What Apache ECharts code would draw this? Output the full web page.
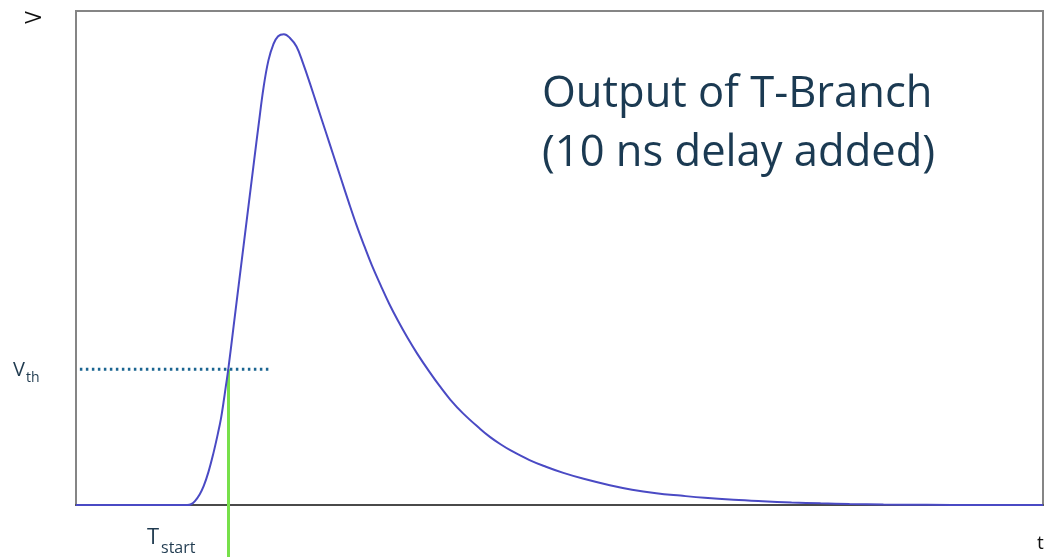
<!DOCTYPE html>
<html>
<head>
<meta charset="utf-8">
<script src="https://cdn.jsdelivr.net/npm/echarts@6/dist/echarts.min.js"></script>
<style>
html,body{margin:0;padding:0;background:#fff;}
#chart{width:1046px;height:557px;}
</style>
</head>
<body>
<div id="chart"></div>
<script>
// Signal: time (arbitrary units 0..100) and voltage (0..100)
const timeValues = [0, 11.5, 11.9, 12.3, 12.8, 13.2, 13.7, 14.2, 14.7, 15.0, 15.25, 15.5, 15.75, 16.3, 16.9, 17.4, 17.9, 18.4, 18.9, 19.4, 19.9, 20.4, 20.9, 21.5, 22.1, 22.8, 23.5, 24.2, 25.0, 25.8, 26.6, 27.4, 28.2, 29.0, 29.8, 30.6, 31.5, 32.4, 33.3, 34.3, 35.3, 36.5, 37.6, 38.7, 40.0, 41.8, 42.8, 43.9, 45.0, 46.9, 48.6, 50.4, 52.5, 55.2, 57.5, 60.0, 62.5, 65.0, 68.0, 71.0, 74.0, 77.0, 80.0, 83.5, 88.0, 93.0, 100];
const voltageValues = [0, 0, 0.15, 0.8, 2.2, 3.8, 6.7, 10.4, 14.7, 17.6, 20.7, 24.1, 27.5, 36.2, 45.7, 53.6, 61.5, 69.4, 77.2, 84.6, 90.0, 93.2, 94.9, 95.3, 94.6, 92.8, 89.3, 85.3, 80.5, 75.7, 70.9, 66.1, 61.3, 56.7, 52.5, 48.5, 44.5, 40.7, 37.3, 33.8, 30.6, 27.1, 24.1, 21.35, 18.6, 15.4, 13.8, 12.3, 11.0, 9.1, 7.75, 6.5, 5.3, 4.0, 3.1, 2.4, 1.9, 1.45, 1.05, 0.75, 0.5, 0.33, 0.21, 0.11, 0.04, 0, 0];
const vthLevel = [27.5];
const vthRange = [0.4, 20.2];
const tStart = [15.77];
const titleLines = ["Output of T-Branch", "(10 ns delay added)"];

const signal = timeValues.map((t, i) => [t, voltageValues[i]]);
const vthLine = vthRange.map(t => [t, vthLevel[0]]);
const startLine = [[tStart[0], vthLevel[0]], [tStart[0], -10.6]];

const chart = echarts.init(document.getElementById('chart'), null, {renderer: 'canvas'});
const labelColor = '#1f3a4f';
chart.setOption({
  animation: false,
  backgroundColor: '#fff',
  grid: {left: 76, right: 3, top: 11, bottom: 52, show: true, borderColor: '#858585', borderWidth: 2, backgroundColor: 'transparent'},
  xAxis: {type: 'value', min: 0, max: 100,
    axisLine: {show: true, lineStyle: {color: '#4a4a4a', width: 2}},
    axisTick: {show: false}, axisLabel: {show: false}, splitLine: {show: false}},
  yAxis: {type: 'value', min: 0, max: 100,
    axisLine: {show: false}, axisTick: {show: false}, axisLabel: {show: false}, splitLine: {show: false}},
  series: [
    {type: 'line', data: vthLine, symbol: 'none', clip: false, z: 2,
      lineStyle: {color: '#1b6591', width: 3, type: [2.5, 3.5]}},
    {type: 'line', data: startLine, symbol: 'none', clip: false, z: 3,
      lineStyle: {color: '#77e04a', width: 3}},
    {type: 'line', data: signal, symbol: 'none', smooth: 0.4, z: 4,
      lineStyle: {color: '#4a4ac4', width: 2}}
  ],
  graphic: [
    {type: 'text', x: 35, y: 17.5, rotation: Math.PI / 2,
      style: {text: 'V', fill: '#111', font: '21px "Open Sans", sans-serif', align: 'center', verticalAlign: 'middle'}},
    {type: 'text', x: 1037, y: 544,
      style: {text: 't', fill: '#111', font: '19px "Open Sans", sans-serif', align: 'left', verticalAlign: 'middle'}},
    {type: 'text', x: 13, y: 370,
      style: {text: 'V', fill: labelColor, font: '20px "Open Sans", sans-serif', align: 'left', verticalAlign: 'middle'}},
    {type: 'text', x: 26, y: 378.5,
      style: {text: 'th', fill: labelColor, font: '14px "Open Sans", sans-serif', align: 'left', verticalAlign: 'middle'}},
    {type: 'text', x: 147, y: 538,
      style: {text: 'T', fill: labelColor, font: '22px "Open Sans", sans-serif', align: 'left', verticalAlign: 'middle'}},
    {type: 'text', x: 161, y: 548,
      style: {text: 'start', fill: labelColor, font: '16px "Open Sans", sans-serif', align: 'left', verticalAlign: 'middle'}},
    {type: 'text', x: 542, y: 95,
      style: {text: titleLines[0], fill: '#1b3a52', font: '43.5px "Open Sans", sans-serif', align: 'left', verticalAlign: 'middle'}},
    {type: 'text', x: 542, y: 154,
      style: {text: titleLines[1], fill: '#1b3a52', font: '43.5px "Open Sans", sans-serif', align: 'left', verticalAlign: 'middle'}}
  ]
});
</script>
</body>
</html>
